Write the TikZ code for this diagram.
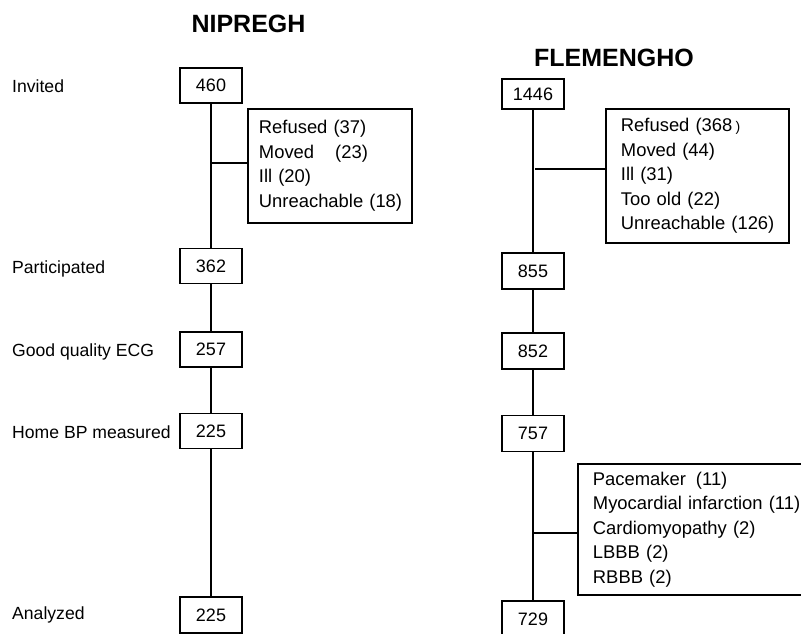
\documentclass[tikz,border=0pt]{standalone}
\usepackage{fontspec}
\setmainfont{Liberation Sans}
\newcommand\padA{\hspace*{11pt}}
\newcommand\padB{\hspace*{15pt}}
\begin{document}
\begin{tikzpicture}[x=1pt,y=-1pt,
  numbox/.style={draw,line width=1.9pt,minimum width=62pt,minimum height=35pt,inner sep=0pt,font=\fontsize{18}{20}\selectfont},
  exbox/.style={draw,line width=1.9pt,anchor=north west,align=left,inner sep=0pt,font=\fontsize{18.4}{24.5}\selectfont},
  lab/.style={anchor=base west,inner sep=0pt,font=\fontsize{17.6}{20}\selectfont},
  ttl/.style={inner sep=0pt,font=\fontsize{25}{28}\selectfont\bfseries},
  conn/.style={line width=1.7pt}]
\clip (0,0) rectangle (801,633);
\fill[white] (0,0) rectangle (801,633);
% titles
\node[ttl] (t1) at (248.5,24) {NIPREGH};
\node[ttl] (t2) at (614,58) {FLEMENGHO};
% row labels
\node[lab] (l1) at (12,92.5) {Invited};
\node[lab] (l2) at (12,273) {Participated};
\node[lab] (l3) at (12,356) {Good quality ECG};
\node[lab] (l4) at (12,438) {Home BP measured};
\node[lab] (l5) at (12,619) {Analyzed};
% NIPREGH column
\node[numbox] (a1) at (211,85.5) {460};
\node[numbox] (a2) at (211,266) {362};
\node[numbox] (a3) at (211,349.5) {257};
\node[numbox] (a4) at (211,431) {225};
\node[numbox,minimum height=36pt] (a5) at (211,615) {225};
\node[exbox,minimum width=164pt,minimum height=114pt,text width=164pt] (ea) at (247,108)
  {\padA Refused (37)\\\padA Moved\hspace*{21pt}(23)\\\padA Ill (20)\\\padA Unreachable (18)};
% FLEMENGHO column
\node[numbox,minimum height=30pt] (b1) at (533,94) {1446};
\node[numbox,minimum height=36pt] (b2) at (533,271) {855};
\node[numbox,minimum height=36pt] (b3) at (533,351) {852};
\node[numbox,minimum height=36pt] (b4) at (533,433.5) {757};
\node[numbox,minimum height=36pt] (b5) at (533,619) {729};
\node[exbox,minimum width=183pt,minimum height=134pt,text width=183pt] (eb) at (605,108)
  {\padB Refused (368\,{\fontsize{14}{15}\selectfont)}\\\padB Moved (44)\\\padB Ill (31)\\\padB Too old (22)\\\padB Unreachable (126)};
\node[exbox,minimum width=240pt,minimum height=131pt,text width=240pt] (ec) at (577,463)
  {\padB Pacemaker\hspace*{10pt}(11)\\\padB Myocardial infarction (11)\\\padB Cardiomyopathy (2)\\\padB LBBB (2)\\\padB RBBB (2)};
% connectors
\coordinate (ja) at (211,163);
\coordinate (jb) at (535,169);
\coordinate (jc) at (533,533);
\draw[conn] (a1) -- (a2);
\draw[conn] (a2) -- (a3);
\draw[conn] (a3) -- (a4);
\draw[conn] (a4) -- (a5);
\draw[conn] (ja) -- (ja -| ea.west);
\draw[conn] (b1) -- (b2);
\draw[conn] (b2) -- (b3);
\draw[conn] (b3) -- (b4);
\draw[conn] (b4) -- (b5);
\draw[conn] (jb) -- (jb -| eb.west);
\draw[conn] (jc) -- (jc -| ec.west);
\end{tikzpicture}
\end{document}
